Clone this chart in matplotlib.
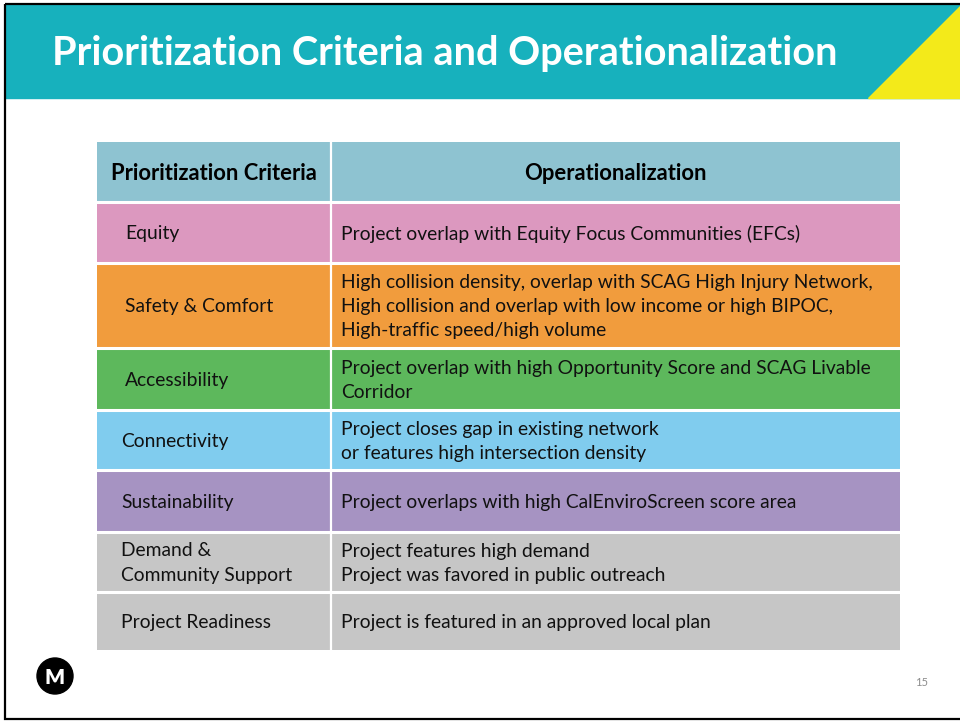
import matplotlib.pyplot as plt
from matplotlib.patches import Rectangle, Polygon, Circle

plt.rcParams['font.family'] = ['Lato', 'DejaVu Sans']

# table content
title = "Prioritization Criteria and Operationalization"
header = ["Prioritization Criteria", "Operationalization"]
criteria = ["Equity", "Safety & Comfort", "Accessibility", "Connectivity",
            "Sustainability", "Demand &\nCommunity Support", "Project Readiness"]
operationalization = [
    "Project overlap with Equity Focus Communities (EFCs)",
    "High collision density, overlap with SCAG High Injury Network,\n"
    "High collision and overlap with low income or high BIPOC,\n"
    "High-traffic speed/high volume",
    "Project overlap with high Opportunity Score and SCAG Livable\nCorridor",
    "Project closes gap in existing network\nor features high intersection density",
    "Project overlaps with high CalEnviroScreen score area",
    "Project features high demand\nProject was favored in public outreach",
    "Project is featured in an approved local plan",
]
row_colors = ["#DC98BF", "#F19C3D", "#5DB85C", "#80CCEE", "#A693C2", "#C6C6C6", "#C6C6C6"]
header_color = "#8EC3D1"
page_number = "15"

# layout (pixels)
W, H = 960, 721
x_left, x_mid, x_right = 97, 331, 900
row_edges = [142, 201.5, 262.5, 348, 409.5, 470, 531.5, 591.5, 650]
crit_indent = [125, 125, 125, 121, 121, 121, 121]

fig = plt.figure(figsize=(W / 100, H / 100), dpi=100)
ax = fig.add_axes([0, 0, 1, 1])
ax.set_xlim(0, W)
ax.set_ylim(H, 0)
ax.axis('off')

# banner + yellow corner
ax.add_patch(Rectangle((5, 4), W, 94, color="#17B1BD", zorder=1))
ax.add_patch(Polygon([(868, 98), (W + 2, 98), (W + 2, 4)], closed=True,
                     color="#F3EA1A", zorder=2))
ax.text(52, 53, title, color="white", fontsize=28.6, fontweight="bold",
        va="center", ha="left", zorder=3)

# slide frame
ax.add_patch(Rectangle((5, 3.5), W + 10, 715, fill=False, ec="black", lw=1.6, zorder=5))

# table cells
fills = [header_color] + row_colors
for i, c in enumerate(fills):
    top, bot = row_edges[i], row_edges[i + 1]
    ax.add_patch(Rectangle((x_left, top), x_right - x_left, bot - top,
                           fc=c, ec="none", zorder=2))
for y in row_edges[1:-1]:
    ax.plot([x_left, x_right], [y, y], color="white", lw=2.2, zorder=3)
ax.plot([x_mid, x_mid], [row_edges[0], row_edges[-1]], color="white", lw=1.6, zorder=3)

# header text
hy = (row_edges[0] + row_edges[1]) / 2 + 1.5
ax.text((x_left + x_mid) / 2, hy, header[0], fontsize=15.8, fontweight="bold",
        ha="center", va="center", zorder=4)
ax.text((x_mid + x_right) / 2, hy, header[1], fontsize=15.8, fontweight="bold",
        ha="center", va="center", zorder=4)

for i, (crit, op) in enumerate(zip(criteria, operationalization)):
    cy = (row_edges[i + 1] + row_edges[i + 2]) / 2 + 1.5
    ax.text(crit_indent[i], cy, crit, fontsize=13.9, ha="left", va="center",
            linespacing=1.5, color="#111111", zorder=4)
    ax.text(341, cy, op, fontsize=13.9, ha="left", va="center",
            linespacing=1.5, color="#111111", zorder=4)

# metro logo + page number
ax.add_patch(Circle((55, 676), 18, color="black", zorder=4))
ax.text(55, 677, "M", color="white", fontsize=15, fontweight="heavy",
        ha="center", va="center", zorder=5)
ax.text(922, 682, page_number, color="#8C8C8C", fontsize=8, ha="center",
        va="center", zorder=4)

fig.savefig("out.png", dpi=100)
